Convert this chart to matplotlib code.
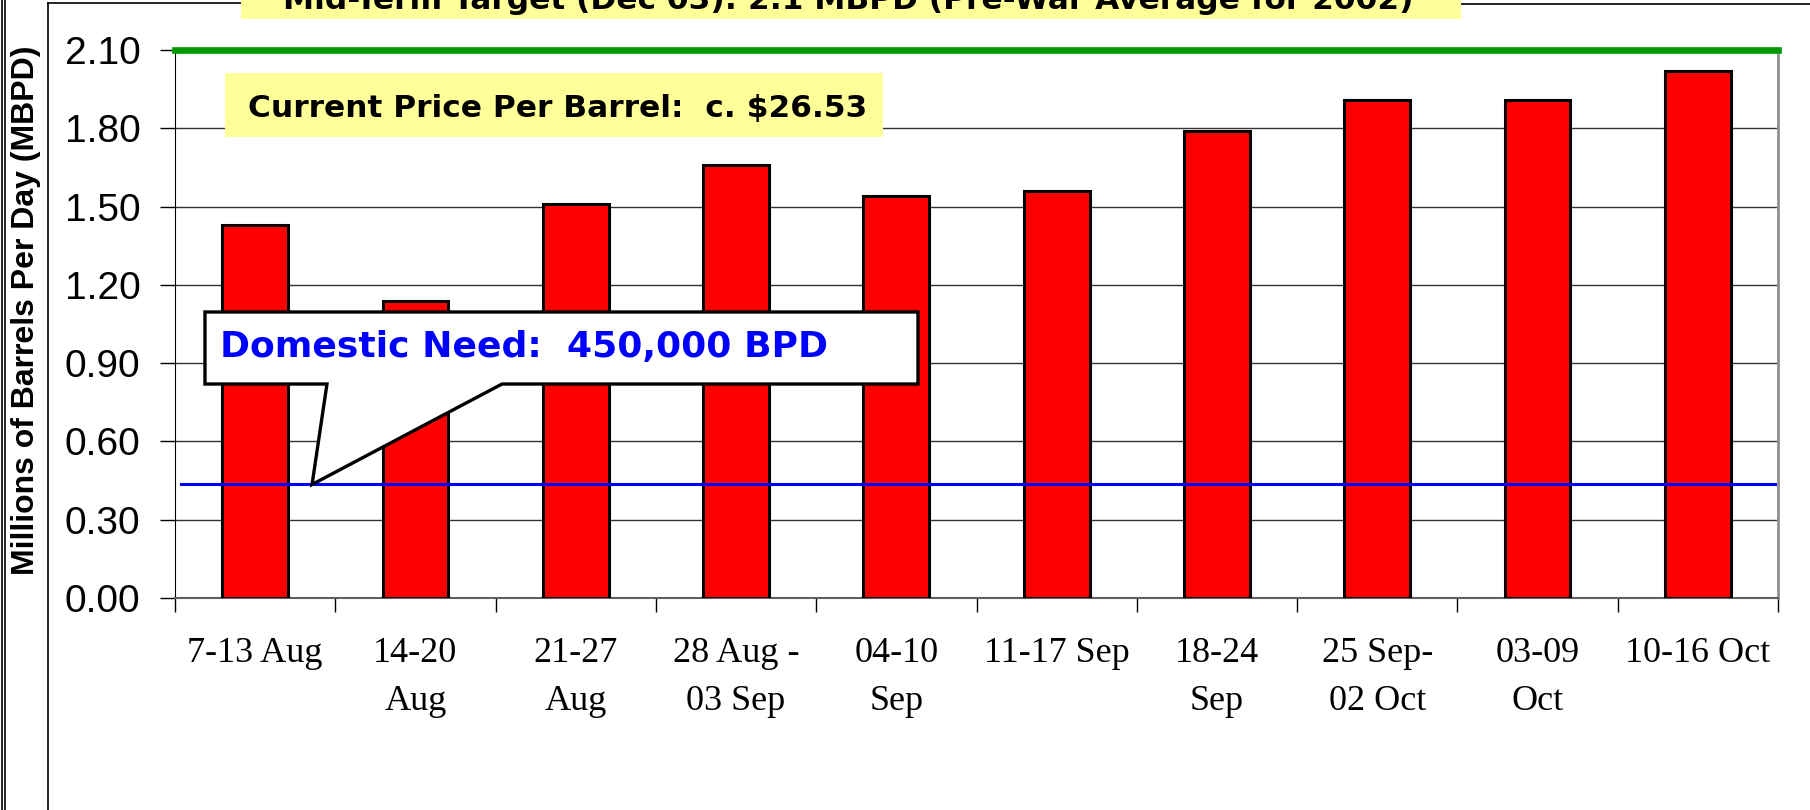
import matplotlib
matplotlib.use("Agg")
import matplotlib.pyplot as plt
from matplotlib.patches import Rectangle, Polygon
from matplotlib.lines import Line2D

# weekly production, millions of barrels per day
weeks = ["7-13 Aug", "14-20\nAug", "21-27\nAug", "28 Aug -\n03 Sep", "04-10\nSep",
         "11-17 Sep", "18-24\nSep", "25 Sep-\n02 Oct", "03-09\nOct", "10-16 Oct"]
production = [1.43, 1.14, 1.51, 1.66, 1.54, 1.56, 1.79, 1.91, 1.91, 2.02]
yticks = [0.0, 0.3, 0.6, 0.9, 1.2, 1.5, 1.8, 2.1]
domestic_need = 0.435
target = 2.1

W, H = 1810, 810
fig = plt.figure(figsize=(W / 100, H / 100), dpi=100)


def fx(px):
    return px / W


def fy(py):
    return 1 - py / H


ax = fig.add_axes([fx(175), fy(598), fx(1778) - fx(175), fy(50) - fy(598)])

x = list(range(len(weeks)))
ax.bar(x, production, width=0.41, color="#FF0000", edgecolor="black", linewidth=2.2, zorder=3)

ax.set_xlim(-0.5, len(weeks) - 0.5)
ax.set_ylim(0, 2.1)
ax.set_yticks(yticks)
ax.set_yticklabels([f"{v:.2f}" for v in yticks], family="Liberation Sans", fontsize=28)
ax.yaxis.grid(True, color="#333333", linewidth=1.0, zorder=0)
ax.tick_params(axis="y", direction="out", length=11, width=1, pad=14, colors="black")

ax.set_xticks(x)
ax.set_xticklabels(weeks, family="Liberation Serif", fontsize=26, linespacing=1.6)
ax.set_xticks([i - 0.5 for i in range(len(weeks) + 1)], minor=True)
ax.tick_params(axis="x", which="major", length=0, pad=28)
ax.tick_params(axis="x", which="minor", direction="out", length=10, width=1)

ax.spines["top"].set_visible(False)
ax.spines["left"].set_color("black")
ax.spines["right"].set_color("#909090")
ax.spines["right"].set_linewidth(2)
ax.spines["bottom"].set_color("#606060")
ax.spines["bottom"].set_linewidth(1.5)

fig.text(fx(26), fy(310), "Millions of Barrels Per Day (MBPD)", family="Liberation Sans",
         fontweight="bold", fontsize=23, rotation=90, ha="center", va="center")

# target and domestic need lines
ax.axhline(target, color="#009900", linewidth=4.8, zorder=5, clip_on=False)
ax.axhline(domestic_need, xmin=0.004, xmax=0.998, color="#0000FF", linewidth=2.2, zorder=6)

# callout for domestic need
callout = Polygon([(-0.313, 1.096), (4.135, 1.096), (4.135, 0.820), (1.54, 0.820),
                   (0.355, domestic_need), (0.448, 0.820), (-0.313, 0.820)],
                  closed=True, facecolor="white", edgecolor="black", linewidth=2.4,
                  joinstyle="miter", zorder=7, clip_on=False)
ax.add_patch(callout)
fig.text(fx(220), fy(357), "Domestic Need:  450,000 BPD", color="#0000FF", fontsize=26,
         fontweight="bold", family="DejaVu Sans", va="baseline", ha="left", zorder=8)

# price box
fig.patches.append(Rectangle((fx(225), fy(137)), fx(883) - fx(225), fy(73) - fy(137),
                             transform=fig.transFigure, facecolor="#FFFF99", edgecolor="none",
                             zorder=2))
fig.text(fx(248), fy(117), "Current Price Per Barrel:  c. $26.53", fontsize=22.5,
         fontweight="bold", family="DejaVu Sans", va="baseline", ha="left", zorder=3)

# title box (cut off at top, as in the source slide)
fig.patches.append(Rectangle((fx(241), fy(19)), fx(1461) - fx(241), fy(-30) - fy(19),
                             transform=fig.transFigure, facecolor="#FFFF99", edgecolor="none",
                             zorder=2))
fig.text(fx(283), fy(9), "Mid-Term Target (Dec 03): 2.1 MBPD (Pre-War Average for 2002)",
         fontsize=22.5, fontweight="bold", family="DejaVu Sans", va="baseline", ha="left",
         zorder=3)

# frame lines
for line in [Line2D([fx(48), fx(48)], [fy(3), 0]),
             Line2D([fx(48), fx(241)], [fy(3), fy(3)]),
             Line2D([fx(1461), 1], [fy(4), fy(4)]),
             Line2D([fx(2), fx(2)], [1, 0]),
             Line2D([fx(5), fx(5)], [1, 0])]:
    line.set_color("black")
    line.set_linewidth(1.2)
    fig.add_artist(line)

fig.savefig("out.png", dpi=100)
